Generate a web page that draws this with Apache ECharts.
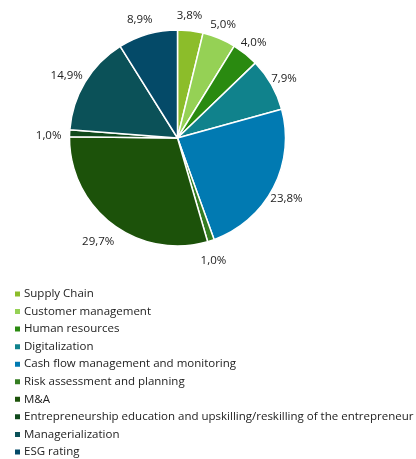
<!DOCTYPE html>
<html>
<head>
<meta charset="utf-8">
<script src="https://cdn.jsdelivr.net/npm/echarts@6/dist/echarts.min.js"></script>
<style>html,body{margin:0;padding:0;background:#fff;}#c{width:416px;height:459px;}</style>
</head>
<body>
<div id="c"></div>
<script>
const categories = ["Supply Chain","Customer management","Human resources","Digitalization","Cash flow management and monitoring","Risk assessment and planning","M&A","Entrepreneurship education and upskilling/reskilling of the entrepreneur","Managerialization","ESG rating"];
const values = [3.8, 5.0, 4.0, 7.9, 23.8, 1.0, 29.7, 1.0, 14.9, 8.9];
const colors = ["#8CBD2A","#95D155","#2A8A10","#10828C","#017AB2","#347D22","#1C520A","#10491C","#0B5158","#044A68"];

const CX = 177.5, CY = 138, R = 108;
const LABEL_D = 126, LABEL_OX = -3, LABEL_OY = 3;
const total = values.reduce((a, b) => a + b, 0);
const midAngles = [];
let cum = 0;
values.forEach(v => { midAngles.push((cum + v / 2) / total * 2 * Math.PI); cum += v; });

const chart = echarts.init(document.getElementById('c'));
chart.setOption({
  animation: false,
  color: colors,
  legend: {
    orient: 'vertical', left: 8, top: 283, height: 180,
    itemWidth: 7, itemHeight: 7, itemGap: 5.55,
    icon: 'rect',
    textStyle: { fontFamily: 'Open Sans', fontSize: 11.5, color: '#222', padding: [0,0,0,-2] },
    data: categories
  },
  series: [{
    type: 'pie',
    center: [CX, CY], radius: R,
    startAngle: 90, clockwise: true,
    itemStyle: { borderColor: '#fff', borderWidth: 1.5 },
    label: { show: true, position: 'outside', fontFamily: 'Open Sans', fontSize: 11.5, color: '#222',
      formatter: p => p.value.toFixed(1).replace('.', ',') + '%' },
    labelLine: { show: false, length: 6, length2: 0 },
    labelLayout: function (p) {
      const a = midAngles[p.dataIndex];
      return {
        x: CX + LABEL_OX + LABEL_D * Math.sin(a),
        y: CY + LABEL_OY - LABEL_D * Math.cos(a),
        align: 'center', verticalAlign: 'middle'
      };
    },
    data: categories.map((n, i) => ({ name: n, value: values[i] }))
  }]
});
</script>
</body>
</html>
